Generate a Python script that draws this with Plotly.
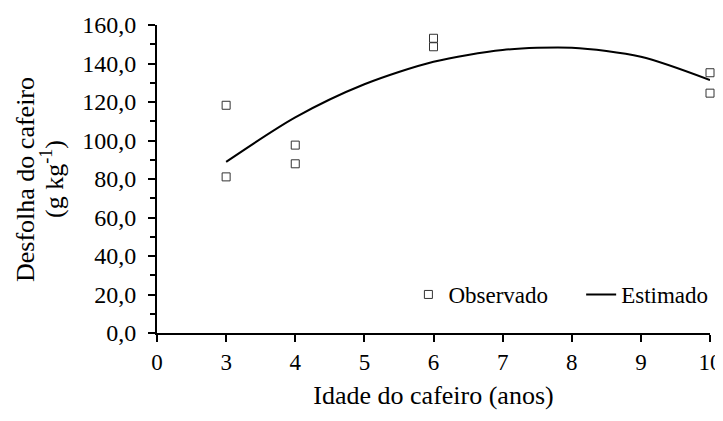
import plotly.graph_objs as go

# idade do cafeiro (anos) -> rótulos do eixo x (eixo de categorias igualmente espaçadas)
tick_labels = ["0", "3", "4", "5", "6", "7", "8", "9", "10"]

# valores observados
obs_idade = [3, 3, 4, 4, 6, 6, 10, 10]
obs_desfolha = [118.3, 81.1, 97.6, 87.9, 153.1, 148.7, 135.2, 124.6]

# curva estimada
est_idade = [3, 4, 5, 6, 7, 8, 9, 10]
est_desfolha = [88.9, 112.0, 129.2, 140.9, 147.0, 148.2, 143.5, 131.4]


def pos(labels):
    # posição no eixo: cada rótulo ocupa uma casa
    return [tick_labels.index(str(v)) for v in labels]


serif = "Times New Roman, Liberation Serif, DejaVu Serif, serif"
font = dict(family=serif, size=24, color="black")
xtick_font = dict(family=serif, size=23, color="black")
title_font = dict(family=serif, size=26, color="black")
legend_font = dict(family=serif, size=23, color="black")

obs = go.Scatter(
    x=pos(obs_idade), y=obs_desfolha,
    mode="markers", name="Observado", cliponaxis=False,
    marker=dict(symbol="square-open", size=8, color="#333333", line=dict(width=1)))

est = go.Scatter(
    x=pos(est_idade), y=est_desfolha,
    mode="lines", name="Estimado", cliponaxis=False, legend="legend2",
    line=dict(color="black", width=2, shape="spline", smoothing=0.8))

# a página tem 8px de margem no body, por isso tudo vai deslocado 8px
layout = go.Layout(
    width=723, height=421,
    plot_bgcolor="white", paper_bgcolor="white",
    font=font,
    showlegend=True,
    margin=dict(l=149, r=21, t=17, b=96),
    xaxis=dict(
        range=[0, 8], tickmode="array",
        tickvals=list(range(len(tick_labels))), ticktext=tick_labels,
        showgrid=False, zeroline=False,
        showline=True, linecolor="black", linewidth=2,
        ticks="outside", ticklen=7, tickwidth=2, tickcolor="black",
        tickfont=xtick_font,
        title=dict(text="Idade do cafeiro (anos)", standoff=12, font=title_font),
        automargin=False),
    yaxis=dict(
        range=[0, 160], tickmode="array",
        tickvals=list(range(0, 161, 20)),
        ticktext=["%d,0" % v for v in range(0, 161, 20)],
        showgrid=False, zeroline=False,
        showline=True, linecolor="black", linewidth=2,
        ticks="outside", ticklen=7, tickwidth=2, tickcolor="black",
        tickfont=font, ticklabelstandoff=7,
        minor=dict(dtick=10, ticks="outside", ticklen=5, tickwidth=2, tickcolor="black"),
        automargin=False),
    legend=dict(
        orientation="h", x=0.4546, y=0.125, xanchor="left", yanchor="middle",
        bgcolor="rgba(0,0,0,0)", font=legend_font, itemwidth=30),
    legend2=dict(
        orientation="h", x=0.767, y=0.125, xanchor="left", yanchor="middle",
        bgcolor="rgba(0,0,0,0)", font=legend_font, itemwidth=30),
    annotations=[
        dict(text="Desfolha do cafeiro",
             xref="paper", yref="paper", x=-0.2387, y=0.5,
             xanchor="center", yanchor="middle", textangle=-90,
             showarrow=False, font=title_font),
        dict(text="(g kg<sup>-1</sup>)",
             xref="paper", yref="paper", x=-0.1899, y=0.5,
             xanchor="center", yanchor="middle", textangle=-90,
             showarrow=False, font=title_font)])

fig = go.Figure(data=[obs, est], layout=layout)
fig.write_html("out.html")
